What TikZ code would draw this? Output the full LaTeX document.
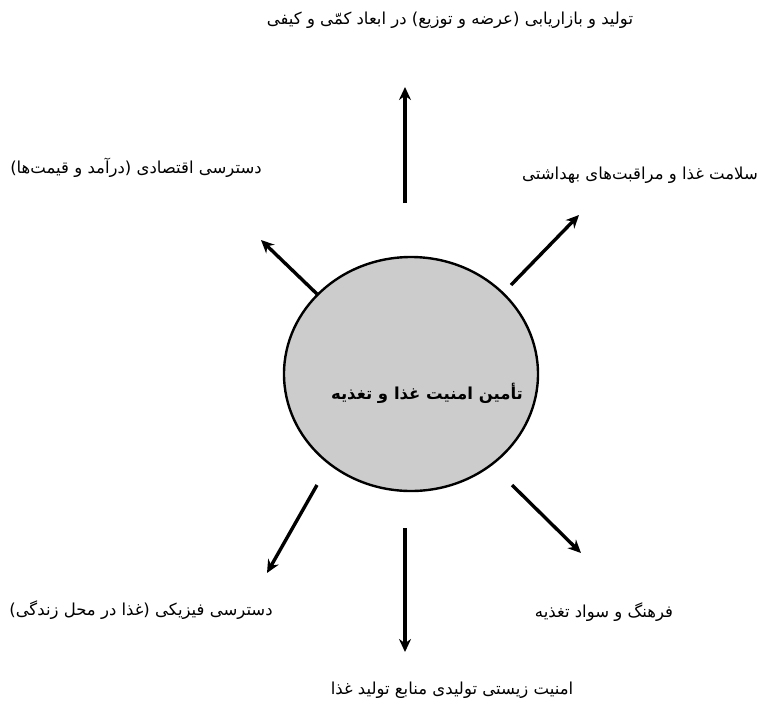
\documentclass[tikz,border=0pt]{standalone}
\usepackage{fontspec}
\usetikzlibrary{arrows.meta,shapes.geometric}
\newfontfamily\arabicfont[Script=Arabic]{DejaVu Sans}
\TeXXeTstate=1
\newcommand{\fa}[1]{\beginR #1\endR}

\tikzset{
    goal/.style={ellipse, draw, line width=2.4pt, fill=gray!40,
        minimum width=254pt, minimum height=234pt, inner sep=0pt},
    goaltext/.style={font=\arabicfont\bfseries\fontsize{16.5}{18}\selectfont, inner sep=0pt},
    factor/.style={font=\arabicfont\fontsize{16.5}{18}\selectfont, inner sep=0pt},
    link/.style={-{Stealth[length=13pt,width=12pt]}, line width=3.4pt}
}

\begin{document}
\begin{tikzpicture}[x=1pt, y=-1pt]
    \useasboundingbox (0,0) rectangle (760,705);
    % central goal
    \node[goal] (goal) at (411,374) {};
    \node[goaltext] (goal-text) at (427,393) {\fa{تأمین امنیت غذا و تغذیه}};
    % the six factors
    \node[factor] (production) at (450,20)
        {\fa{تولید و بازاریابی (عرضه و توزیع) در ابعاد کمّی و کیفی}};
    \node[factor] (economic) at (136,168)
        {\fa{دسترسی اقتصادی (درآمد و قیمت‌ها)}};
    \node[factor] (health) at (640,175)
        {\fa{سلامت غذا و مراقبت‌های بهداشتی}};
    \node[factor] (physical) at (141,610)
        {\fa{دسترسی فیزیکی (غذا در محل زندگی)}};
    \node[factor] (culture) at (604,612)
        {\fa{فرهنگ و سواد تغذیه}};
    \node[factor] (biosafety) at (452,690)
        {\fa{امنیت زیستی تولیدی منابع تولید غذا}};
    % arrow ends
    \coordinate (production-s) at (405,203);
    \coordinate (production-e) at (405,87);
    \coordinate (economic-s) at (317,294);
    \coordinate (economic-e) at (261,240);
    \coordinate (health-s) at (511,285);
    \coordinate (health-e) at (579,215);
    \coordinate (physical-s) at (317,485);
    \coordinate (physical-e) at (267,573);
    \coordinate (culture-s) at (512,485);
    \coordinate (culture-e) at (581,553);
    \coordinate (biosafety-s) at (405,528);
    \coordinate (biosafety-e) at (405,652);
    \draw[link] (production-s) -- (production-e);
    \draw[link] (economic-s) -- (economic-e);
    \draw[link] (health-s) -- (health-e);
    \draw[link] (physical-s) -- (physical-e);
    \draw[link] (culture-s) -- (culture-e);
    \draw[link] (biosafety-s) -- (biosafety-e);
\end{tikzpicture}
\end{document}
